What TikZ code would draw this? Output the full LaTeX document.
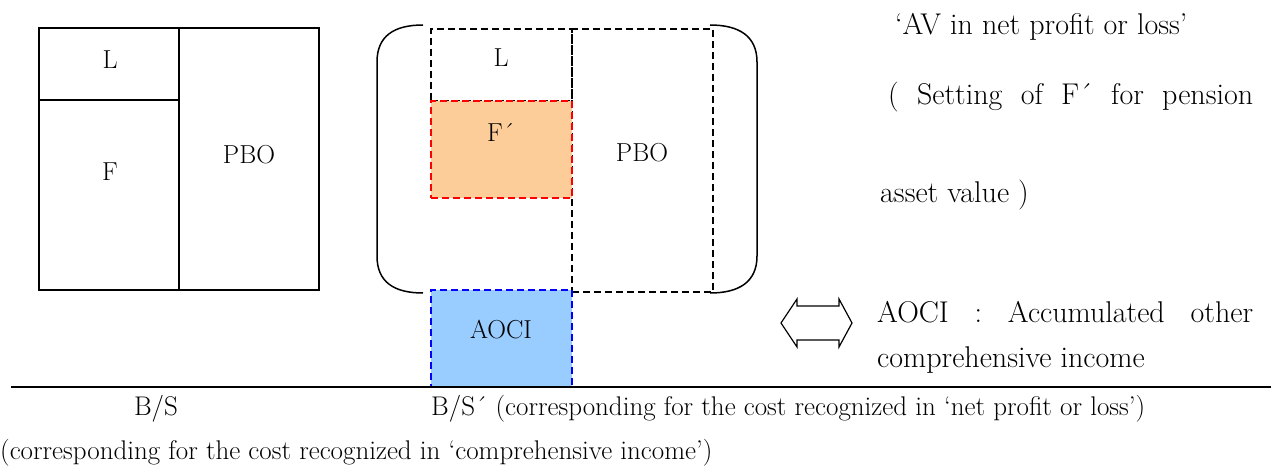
\documentclass[tikz,border=0pt]{standalone}
\usepackage{fontspec}
\begin{document}
\begin{tikzpicture}[x=1pt,y=-1pt,
  solidbox/.style={draw, line width=1.4pt, inner sep=0pt, outer sep=0pt, anchor=north west},
  dbox/.style={draw, dashed, dash pattern=on 7pt off 4pt, line width=1.3pt, inner sep=0pt, outer sep=0pt, anchor=north west},
  big/.style={font=\fontsize{26}{31}\selectfont, inner sep=0pt},
  rtext/.style={font=\fontsize{30}{36}\selectfont, inner sep=0pt, anchor=west},
  small/.style={font=\fontsize{27}{32}\selectfont, inner sep=0pt},
  brk/.style={line width=1.5pt}]
\useasboundingbox (0,0) rectangle (1271,468);
% left B/S
\node[solidbox, minimum width=140pt, minimum height=72pt] (bL) at (39,28) {};
\node[solidbox, minimum width=140pt, minimum height=190pt] (bF) at (39,100) {};
\node[solidbox, minimum width=140pt, minimum height=262pt] (bP) at (179,28) {};
\node[big] (tL) at (110,60) {L};
\node[big] (tF) at (110,172) {F};
\node[big] (tP) at (249,155) {PBO};
% middle B/S'
\node[dbox, minimum width=141pt, minimum height=263pt] (mP) at (572,29) {};
\node[dbox, minimum width=141pt, minimum height=72pt] (mL) at (431,29) {};
\node[dbox, draw=red, fill={rgb,255:red,252;green,204;blue,153}, minimum width=141pt, minimum height=97pt] (mF) at (431,101) {};
\node[dbox, draw=blue, fill={rgb,255:red,153;green,204;blue,255}, minimum width=141pt, minimum height=97pt] (mA) at (431,290) {};
\node[big] (tmL) at (501,58) {L};
\node[big] (tmF) at (501,132) {F\char"00B4};
\node[big] (tmP) at (642,153) {PBO};
\node[big] (tmA) at (501,330) {AOCI};
% brackets
\coordinate (b1) at (423,25);
\coordinate (b2) at (423,293);
\coordinate (b3) at (710,25);
\coordinate (b4) at (710,293);
\draw[brk] (b1) .. controls (394,25) and (377,36) .. (377,62) -- (377,256) .. controls (377,282) and (394,293) .. (b2);
\draw[brk] (b3) .. controls (739,25) and (757,36) .. (757,62) -- (757,256) .. controls (757,282) and (739,293) .. (b4);
% right texts
\node[rtext] (r1) at (895,27) {`AV in net profit or loss'};
\node[rtext] (r2) at (888,97) {\makebox[365pt][s]{( Setting of F\char"00B4{} for pension}};
\node[rtext] (r3) at (880,195) {asset value )};
\node[rtext] (r4) at (877,312) {\makebox[376pt][s]{AOCI : Accumulated other}};
\node[rtext] (r5) at (877,360) {comprehensive income};
% double arrow
\draw[line width=1.2pt] (781,323) -- (797,299) -- (797,306) -- (839,306) -- (839,299) -- (852,323) -- (839,347) -- (839,340) -- (797,340) -- (797,347) -- cycle;
% rule
\coordinate (h1) at (11,387);
\coordinate (h2) at (1271,387);
\draw[line width=2pt] (h1) -- (h2);
% captions
\node[small] (c1) at (156,409) {B/S};
\node[small, anchor=west] (c2) at (431,409) {B/S\char"00B4{} (corresponding for the cost recognized in `net profit or loss')};
\node[small, anchor=west] (c3) at (0,453) {(corresponding for the cost recognized in `comprehensive income')};
\end{tikzpicture}
\end{document}
